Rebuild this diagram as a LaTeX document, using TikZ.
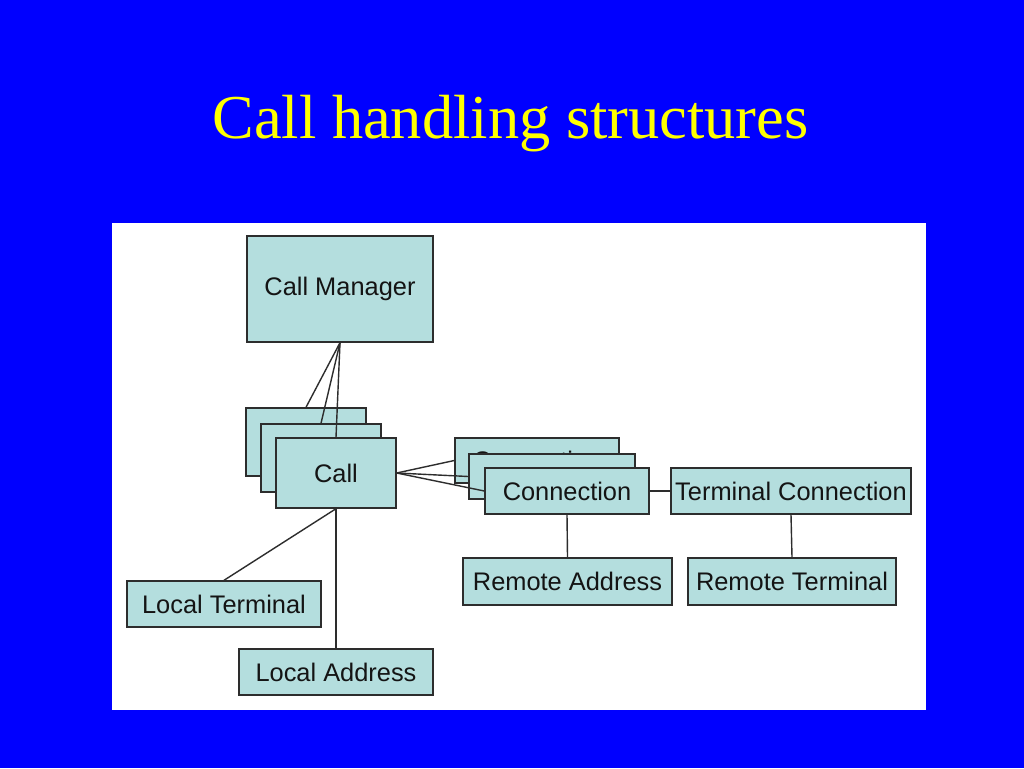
\documentclass[tikz,border=0pt]{standalone}
\usepackage{fontspec}
\setmainfont{Liberation Serif}
\newfontfamily\boxfont{Liberation Sans}
\definecolor{slideblue}{RGB}{0,0,255}
\definecolor{boxfill}{RGB}{180,222,222}
\definecolor{boxline}{RGB}{45,45,45}
\definecolor{boxtext}{RGB}{20,20,20}
\definecolor{titleyellow}{RGB}{255,255,0}
\begin{document}
\begin{tikzpicture}[x=1pt,y=-1pt,
  box/.style={draw=boxline,line width=1.4pt,fill=boxfill,rectangle,inner sep=0pt,
    font=\boxfont\fontsize{25.4}{27}\selectfont,text=boxtext},
  link/.style={draw=boxline,line width=1.4pt}]
\useasboundingbox (0,0) rectangle (1024,768);
\fill[slideblue] (0,0) rectangle (1024,768);
\fill[white] (112,223) rectangle (926,710);
\node[anchor=base,text=titleyellow,font=\fontsize{62.4}{68}\selectfont] (title) at (510.5,138) {Call handling structures};
% nodes
\node[box,minimum width=186pt,minimum height=106pt] (cm) at (340,289) {Call Manager};
\node[box,minimum width=120pt,minimum height=68pt] (callA) at (306,442) {};
\node[box,minimum width=120pt,minimum height=68pt] (callB) at (321,458) {};
\node[box,minimum width=120pt,minimum height=70pt] (callC) at (336,473) {Call};
\node[box,minimum width=164pt,minimum height=45pt] (connA) at (537,460.5) {Connection};
\node[box,minimum width=166pt,minimum height=45pt] (connB) at (552,476.5) {};
\node[box,minimum width=164pt,minimum height=46pt] (connC) at (567,491) {Connection};
\node[box,minimum width=240pt,minimum height=46pt] (tc) at (791,491) {Terminal Connection};
\node[box,minimum width=209pt,minimum height=47pt] (ra) at (567.5,581.5) {Remote Address};
\node[box,minimum width=208pt,minimum height=47pt] (rt) at (792,581.5) {Remote Terminal};
\node[box,minimum width=194pt,minimum height=46pt] (lt) at (224,604) {Local Terminal};
\node[box,minimum width=194pt,minimum height=46pt] (la) at (336,672) {Local Address};
% connectors
\draw[link] (cm.south) -- (callA.north);
\draw[link] (cm.south) -- (callB.north);
\draw[link] (cm.south) -- (callC.north);
\draw[link] (callC.east) -- (connA.west);
\draw[link] (callC.east) -- (connB.west);
\draw[link] (callC.east) -- (connC.west);
\draw[link] (connC.east) -- (tc.west);
\draw[link] (connC.south) -- (ra.north);
\draw[link] (tc.south) -- (rt.north);
\draw[link] (callC.south) -- (lt.north);
\draw[link] (callC.south) -- (la.north);
\end{tikzpicture}
\end{document}
